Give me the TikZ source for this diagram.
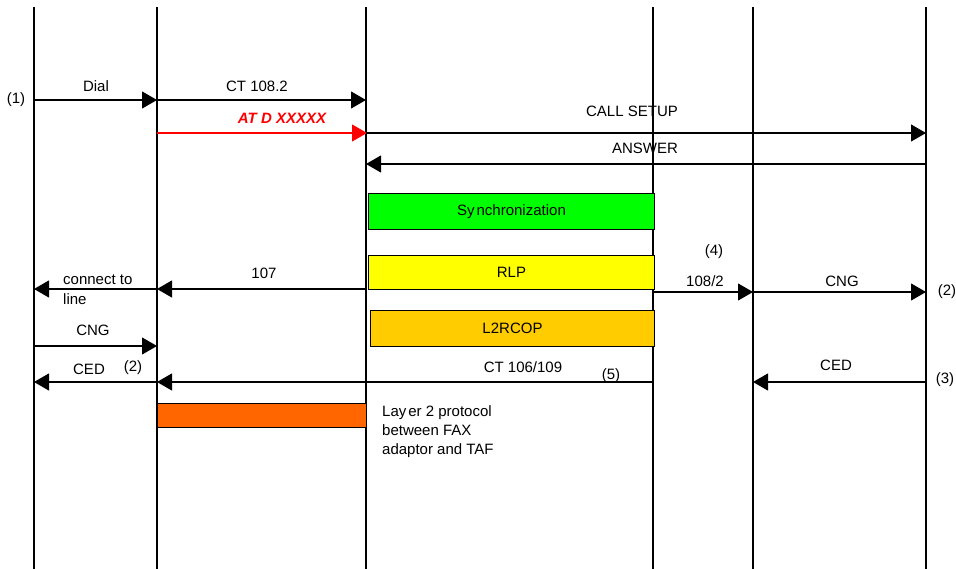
\documentclass[tikz,border=0pt]{standalone}
\usepackage{fontspec}
\setmainfont{Liberation Sans}
\usetikzlibrary{arrows.meta}
\definecolor{syncgreen}{HTML}{00FF00}
\definecolor{rlpyellow}{HTML}{FFFF00}
\definecolor{lcopamber}{HTML}{FFCC00}
\definecolor{layorange}{HTML}{FF6600}
\definecolor{atred}{HTML}{FF0000}
\begin{document}
\begin{tikzpicture}[x=1pt,y=-1pt,
  life/.style={line width=1.2pt},
  msg/.style={line width=1.1pt,-{Triangle[length=15pt,width=17pt]}},
  lbl/.style={inner sep=0pt,font=\fontsize{15}{17}\selectfont},
  box/.style={draw=black,line width=1pt,inner sep=0pt,anchor=north west,font=\fontsize{15}{17}\selectfont}]
\useasboundingbox (0,0) rectangle (956,569);
% lifelines
\foreach \n/\x in {A/34,B/157,C/366,D/653,E/753,F/926}{
  \coordinate (\n t) at (\x,7); \coordinate (\n b) at (\x,569);
  \draw[life] (\n t) -- (\n b);}
% message end points
\coordinate (dialS) at (34,100);  \coordinate (dialE) at (157,100);
\coordinate (ctS) at (157,100);   \coordinate (ctE) at (366,100);
\coordinate (atS) at (157,133);   \coordinate (atE) at (367,133);
\coordinate (csS) at (366,133);   \coordinate (csE) at (926,133);
\coordinate (anS) at (926,164);   \coordinate (anE) at (366,164);
\coordinate (s107) at (366,289);  \coordinate (e107) at (157,289);
\coordinate (conS) at (157,289);  \coordinate (conE) at (34,289);
\coordinate (s108) at (653,292);  \coordinate (e108) at (753,292);
\coordinate (cngRS) at (753,292); \coordinate (cngRE) at (926,292);
\coordinate (cngLS) at (34,346);  \coordinate (cngLE) at (157,346);
\coordinate (ctbS) at (653,382);  \coordinate (ctbE) at (157,382);
\coordinate (cedLS) at (157,382); \coordinate (cedLE) at (34,382);
\coordinate (cedRS) at (926,382); \coordinate (cedRE) at (753,382);
% arrows
\draw[msg] (dialS) -- (dialE);
\draw[msg] (ctS) -- (ctE);
\draw[msg,draw=atred,fill=atred] (atS) -- (atE);
\draw[msg] (csS) -- (csE);
\draw[msg] (anS) -- (anE);
\draw[msg] (s107) -- (e107);
\draw[msg] (conS) -- (conE);
\draw[msg] (s108) -- (e108);
\draw[msg] (cngRS) -- (cngRE);
\draw[msg] (cngLS) -- (cngLE);
\draw[msg] (ctbS) -- (ctbE);
\draw[msg] (cedLS) -- (cedLE);
\draw[msg] (cedRS) -- (cedRE);
% boxes
\node[box,fill=syncgreen,minimum width=286pt,minimum height=36pt] (sync) at (368,193) {Sy\hspace{2pt}nchronization};
\node[box,fill=rlpyellow,minimum width=286pt,minimum height=34pt] (rlp) at (368,255) {RLP};
\node[box,fill=lcopamber,minimum width=284pt,minimum height=36pt] (l2r) at (370,310) {L2RCOP};
\node[box,fill=layorange,minimum width=209pt,minimum height=24pt] (lay) at (157,403) {};
% labels
\node[lbl] (n1) at (16,100) {(1)};
\node[lbl] (tdial) at (96,86) {Dial};
\node[lbl] (tct) at (257,86) {CT 108.2};
\node[lbl,text=atred,font=\fontsize{15}{17}\selectfont\bfseries\itshape] (tat) at (282,118) {AT D XXXXX};
\node[lbl] (tcs) at (632,111) {CALL SETUP};
\node[lbl] (tan) at (645,148) {ANSWER};
\node[lbl] (t107) at (264,273) {107};
\node[lbl,anchor=west] (tcon) at (63,280) {connect to};
\node[lbl,anchor=west] (tline) at (63,299) {line};
\node[lbl] (n4) at (714,252) {(4)};
\node[lbl] (t108) at (705,281) {108/2};
\node[lbl] (tcngR) at (842,281) {CNG};
\node[lbl] (n2R) at (947,292) {(2)};
\node[lbl] (tcngL) at (93,330) {CNG};
\node[lbl] (tcedL) at (89,369) {CED};
\node[lbl] (n2L) at (133,368) {(2)};
\node[lbl] (tctb) at (523,367) {CT 106/109};
\node[lbl] (n5) at (611,376) {(5)};
\node[lbl] (tcedR) at (836,365) {CED};
\node[lbl] (n3) at (945,380) {(3)};
\node[lbl,anchor=north west,align=left,font=\fontsize{15}{19}\selectfont] (tlay) at (382,405) {Lay\hspace{2pt}er 2 protocol\\between FAX\\adaptor and TAF};
\end{tikzpicture}
\end{document}
